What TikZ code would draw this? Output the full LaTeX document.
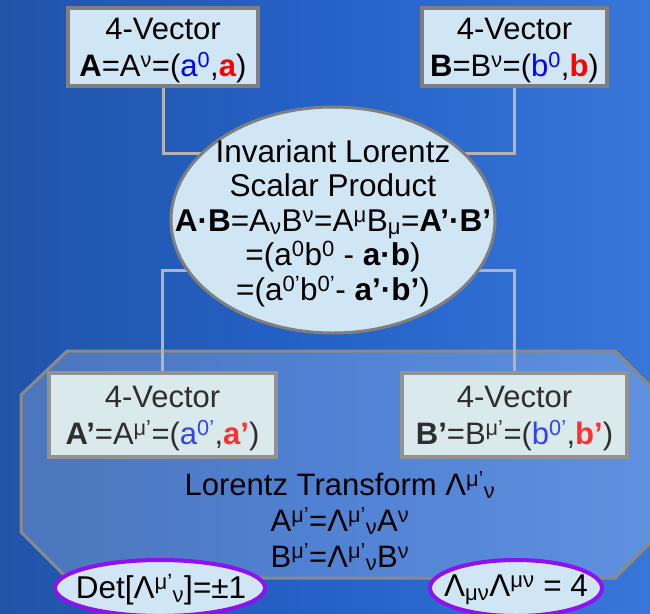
\documentclass[tikz,border=0pt]{standalone}
\usepackage{fontspec}
\setmainfont{Liberation Sans}
\usetikzlibrary{shapes.geometric,backgrounds}
\newcommand{\up}[1]{\textsuperscript{#1}}
\newcommand{\dn}[1]{\textsubscript{#1}}
\newcommand{\topstrut}{\rule{0pt}{28pt}}
\definecolor{bgL}{HTML}{2054A8}
\definecolor{bgM}{HTML}{2562C8}
\definecolor{bgR}{HTML}{3876D8}
\definecolor{boxfill}{HTML}{D0E6F4}
\definecolor{boxfillP}{HTML}{D9E9EC}
\definecolor{boxline}{HTML}{7F7F7F}
\definecolor{boxlineP}{HTML}{929292}
\definecolor{connc}{HTML}{B4B4B4}
\definecolor{octline}{HTML}{8A8A8A}
\definecolor{purp}{HTML}{9010F0}
\definecolor{blueA}{HTML}{0000FF}
\definecolor{redA}{HTML}{FF0000}
\definecolor{blueB}{HTML}{3344EE}
\definecolor{redB}{HTML}{FF3030}
\definecolor{txtP}{HTML}{2E2E2E}
\tikzset{
  big/.style={font=\fontsize{31}{37}\selectfont},
  vecbox/.style={draw=boxline, line width=3.5pt, fill=boxfill, rectangle, inner sep=0pt, align=center, big},
  vecboxP/.style={draw=boxlineP, line width=3.5pt, fill=boxfillP, rectangle, inner sep=0pt, align=center, big, text=txtP},
  mainell/.style={draw=boxline, line width=3pt, fill=boxfill, ellipse, inner sep=0pt, minimum width=324pt, minimum height=226pt},
  purpell/.style={draw=purp, line width=4pt, fill=boxfill, ellipse, inner sep=0pt, minimum height=56pt},
  txt/.style={inner sep=0pt, align=center, font=\fontsize{31.5}{34.5}\selectfont},
  conn/.style={draw=connc, line width=3pt},
  oct/.style={draw=octline, line width=3pt, fill=white, fill opacity=0.2, draw opacity=1}
}
\begin{document}
\begin{tikzpicture}[x=1pt,y=-1pt]
\clip (0,0) rectangle (650,613);
\useasboundingbox (0,0) rectangle (650,613);
% top vectors
\node[vecbox, minimum width=190pt, minimum height=78pt] (A) at (163,47)
  {\topstrut 4-Vector\\\textbf{A}=A\up{ν}=(\textcolor{blueA}{a\up{0}},\textcolor{redA}{\textbf{a}})};
\node[vecbox, minimum width=185pt, minimum height=78pt] (B) at (514.5,47)
  {\topstrut 4-Vector\\\textbf{B}=B\up{ν}=(\textcolor{blueA}{b\up{0}},\textcolor{redA}{\textbf{b}})};
% scalar product ellipse
\node[mainell] (S) at (333,220) {};
\node[txt] (St) at (333,223)
  {Invariant Lorentz\\Scalar Product\\\textbf{A·B}=A\dn{ν}B\up{ν}=A\up{μ}B\dn{μ}=\textbf{A’·B’}\\=(a\up{0}b\up{0} - \textbf{a·b})\\=(a\up{0’}b\up{0’}- \textbf{a’·b’})};
% primed vectors
\node[vecboxP, minimum width=227pt, minimum height=84pt] (Ap) at (162.5,415)
  {\topstrut 4-Vector\\\textbf{A’}=A\up{μ’}=(\textcolor{blueB}{a\up{0’}},\textcolor{redB}{\textbf{a’}})};
\node[vecboxP, minimum width=225pt, minimum height=84pt] (Bp) at (514.5,415)
  {\topstrut 4-Vector\\\textbf{B’}=B\up{μ’}=(\textcolor{blueB}{b\up{0’}},\textcolor{redB}{\textbf{b’}})};
% Lorentz transform text
\node[txt, font=\fontsize{31}{36}\selectfont] (L) at (340,521)
  {Lorentz Transform Λ\up{μ’}\dn{ν}\\A\up{μ’}=Λ\up{μ’}\dn{ν}A\up{ν}\\B\up{μ’}=Λ\up{μ’}\dn{ν}B\up{ν}};
% bottom ellipses
\node[purpell, minimum width=210pt] (D) at (160,588) {};
\node[txt] (Dt) at (161,590) {Det[Λ\up{μ’}\dn{ν}]=±1};
\node[purpell, minimum width=172pt] (E) at (516,588) {};
\node[txt] (Et) at (516,590) {Λ\dn{μν}Λ\up{μν} = 4};
\begin{scope}[on background layer]
  \clip (0,0) rectangle (650,613);
  \shade[left color=bgL, right color=bgR, middle color=bgM] (0,0) rectangle (650,613);
  \path[oct] (21,395) -- (67,351) -- (615,351) -- (661,397) -- (661,532) -- (615,578) -- (67,578) -- (21,532) -- cycle;
  \draw[conn] (A.south) |- ([yshift=67pt]S.center);
  \draw[conn] (B.south) |- ([yshift=67pt]S.center);
  \draw[conn] ([yshift=-50pt]S.center) -| (Ap.north);
  \draw[conn] ([yshift=-50pt]S.center) -| (Bp.north);
\end{scope}
\end{tikzpicture}
\end{document}
